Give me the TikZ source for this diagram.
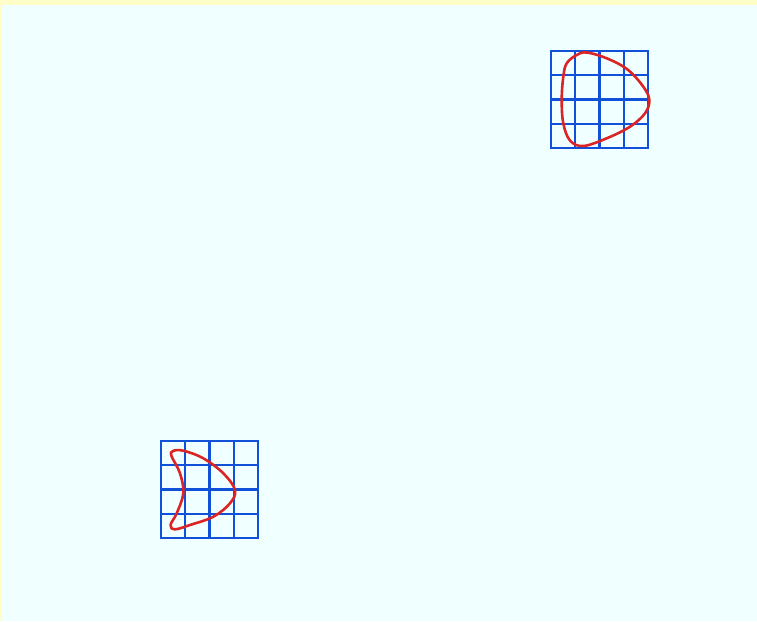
\documentclass[tikz,border=0pt]{standalone}
\usepackage{xcolor}
\usepackage{tikz}
\definecolor{frame}{HTML}{FFFDC8}
\definecolor{paper}{HTML}{F0FFFF}
\definecolor{gridblue}{HTML}{1150D8}
\definecolor{curvered}{HTML}{DD2424}
\tikzset{
  gridline/.style={draw=gridblue, line width=2.2pt, line cap=rect},
  blob/.style={draw=curvered, line width=2.6pt, line join=round},
}
\begin{document}
\begin{tikzpicture}[x=1pt,y=-1pt]
  % background
  \fill[frame] (0,0) rectangle (757,621);
  \fill[paper] (2,5) rectangle (757,621);
  \useasboundingbox (0,0) rectangle (757,621);
  % two grids
  \foreach \gx/\gy in {551/51,161/441}
    \foreach \d in {0,24.25,48.5,72.75,97} {
      \draw[gridline] (\gx+\d,\gy) -- (\gx+\d,\gy+97);
      \draw[gridline] (\gx,\gy+\d) -- (\gx+97,\gy+\d);
    }
  % rounded triangle
  \draw[blob] plot[smooth cycle,tension=0.6] coordinates {
    (586.7,52.5) (606.7,58.3) (627.5,69.5) (643.3,86.7) (649.3,100)
    (645,113.3) (630,126.7) (606.7,138.3) (583.3,146) (570,140.5)
    (563.3,123.3) (561.7,100) (563.3,76.7) (566.7,63.3) (576.7,55)};
  % crescent
  \draw[blob] plot[smooth cycle,tension=0.6] coordinates {
    (173,451) (183.3,450.7) (203.3,458.3) (223.3,473.3) (235,490)
    (230,503.3) (213.3,516.7) (190,525) (175,529.3) (170.5,525)
    (176.7,513.3) (183.3,493.3) (180,473.3) (171.5,456)};
\end{tikzpicture}
\end{document}
